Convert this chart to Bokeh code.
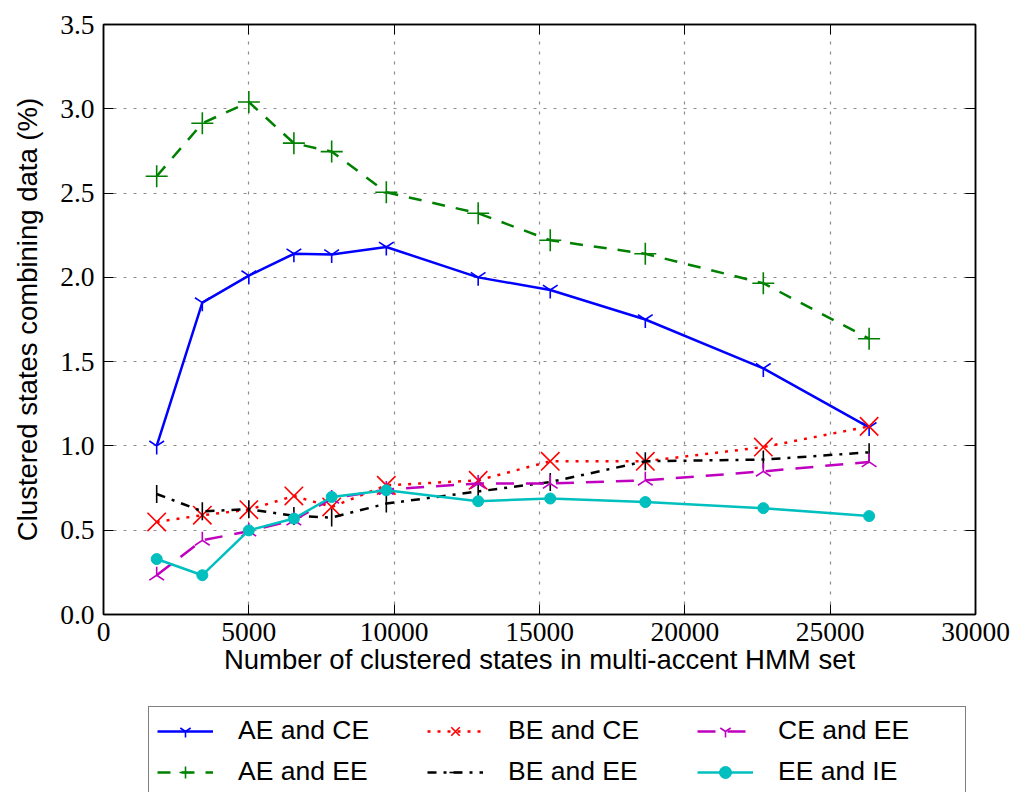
import numpy as np
from bokeh.plotting import figure
from bokeh.layouts import column
from bokeh.models import (FixedTicker, PrintfTickFormatter, LinearAxis, Legend,
                          LegendItem, Range1d, CustomJSTickFormatter)
from bokeh.embed import file_html
from bokeh.resources import INLINE

# ---------------- data ----------------
states = [1830, 3400, 5000, 6550, 7850, 9730, 12890, 15370, 18640, 22700, 26340]
ae_ce = [1.00, 1.85, 2.01, 2.14, 2.135, 2.18, 2.00, 1.925, 1.75, 1.46, 1.11]
ae_ee = [2.60, 2.914, 3.04, 2.796, 2.746, 2.505, 2.38, 2.22, 2.14, 1.965, 1.636]
be_ce = [0.549, 0.589, 0.622, 0.703, 0.638, 0.766, 0.796, 0.909, 0.909, 0.993, 1.116]
be_ee = [0.715, 0.612, 0.625, 0.585, 0.575, 0.658, 0.73, 0.786, 0.909, 0.919, 0.962]
ce_ee = [0.233, 0.44, 0.494, 0.559, 0.688, 0.741, 0.777, 0.777, 0.796, 0.849, 0.905]
ee_ie = [0.329, 0.233, 0.499, 0.569, 0.697, 0.737, 0.672, 0.688, 0.667, 0.631, 0.584]

series_names = ["AE and CE", "AE and EE", "BE and CE", "BE and EE", "CE and EE", "EE and IE"]
x_ticks = [0, 5000, 10000, 15000, 20000, 25000, 30000]
y_ticks = [0.0, 0.5, 1.0, 1.5, 2.0, 2.5, 3.0, 3.5]
x_label = "Number of clustered states in multi-accent HMM set"
y_label = "Clustered states combining data (%)"

TICK_FONT = "Liberation Serif"
LABEL_FONT = "Liberation Sans"

# ---------------- main figure ----------------
p = figure(width=1013, height=700, output_backend="svg", toolbar_location=None,
           x_range=Range1d(x_ticks[0], x_ticks[-1]), y_range=Range1d(y_ticks[0], y_ticks[-1]),
           min_border_left=103, min_border_right=38, min_border_top=24, min_border_bottom=86)
p.background_fill_color = "white"
p.border_fill_color = "white"
p.outline_line_color = "black"
p.outline_line_width = 1.5

for ax in [p.xaxis[0], p.yaxis[0]]:
    ax.major_tick_in = 10
    ax.major_tick_out = 0
    ax.minor_tick_in = 0
    ax.minor_tick_out = 0
    ax.major_tick_line_color = "black"
    ax.major_tick_line_width = 1
    ax.axis_line_color = "black"
    ax.axis_line_width = 1.5
    ax.major_label_text_font = TICK_FONT
    ax.major_label_text_font_size = "27.5px"
    ax.major_label_text_color = "black"
    ax.axis_label_text_font = LABEL_FONT
    ax.axis_label_text_font_size = "27.5px"
    ax.axis_label_text_font_style = "normal"
    ax.axis_label_text_color = "black"

p.xaxis[0].ticker = FixedTicker(ticks=x_ticks)
p.xaxis[0].formatter = PrintfTickFormatter(format="%d")
p.xaxis[0].axis_label = x_label
p.xaxis[0].major_label_standoff = 8
p.xaxis[0].axis_label_standoff = 0

p.yaxis[0].ticker = FixedTicker(ticks=y_ticks)
p.yaxis[0].formatter = PrintfTickFormatter(format="%.1f")
p.yaxis[0].axis_label = y_label
p.yaxis[0].major_label_standoff = 9
p.yaxis[0].axis_label_standoff = 14

# inward ticks on top and right (no labels)
blank = CustomJSTickFormatter(code="return ''")
right_ax = LinearAxis(ticker=FixedTicker(ticks=y_ticks), formatter=blank,
                      major_tick_in=10, major_tick_out=0, minor_tick_in=0, minor_tick_out=0,
                      axis_line_color="black", axis_line_width=1.5, major_label_standoff=0)
top_ax = LinearAxis(ticker=FixedTicker(ticks=x_ticks), formatter=blank,
                    major_tick_in=10, major_tick_out=0, minor_tick_in=0, minor_tick_out=0,
                    axis_line_color="black", axis_line_width=1.5, major_label_standoff=0)
p.add_layout(right_ax, "right")
p.add_layout(top_ax, "above")

p.xgrid.ticker = FixedTicker(ticks=x_ticks)
p.ygrid.ticker = FixedTicker(ticks=y_ticks)
p.grid.grid_line_color = "#8c8c8c"
p.grid.grid_line_dash = "3 7"
p.grid.grid_line_width = 1.2

# ---------------- legend strip (same series, out of its view range) ----------------
lg = figure(width=1013, height=92, output_backend="svg", toolbar_location=None,
            x_range=Range1d(0, 1), y_range=Range1d(0, 1),
            x_axis_location=None, y_axis_location=None,
            min_border_left=0, min_border_right=0, min_border_top=0, min_border_bottom=0)
lg.outline_line_color = None
lg.grid.visible = False
lg.background_fill_color = "white"
lg.border_fill_color = "white"

styles = [
    dict(y=ae_ce, color="#0000ff", dash="solid", marker="y", size=17, angle=0.0),
    dict(y=ae_ee, color="#008000", dash="13 11", marker="cross", size=22, angle=0.0),
    dict(y=be_ce, color="#ff0000", dash="3 7", marker="x", size=26, angle=0.0),
    dict(y=be_ee, color="#000000", dash="9 7 3 7", marker="dash", size=18, angle=np.pi / 2),
    dict(y=ce_ee, color="#bf00bf", dash="18 12", marker="y", size=17, angle=np.pi),
    dict(y=ee_ie, color="#00bfbf", dash="solid", marker="circle", size=11, angle=0.0),
]


def draw(fig, st):
    lr = fig.line(states, st["y"], line_color=st["color"], line_width=2.5, line_dash=st["dash"])
    if st["marker"] == "circle":
        sr = fig.scatter(states, st["y"], marker="circle", size=st["size"],
                         fill_color=st["color"], line_color=st["color"])
    else:
        sr = fig.scatter(states, st["y"], marker=st["marker"], size=st["size"], angle=st["angle"],
                         line_color=st["color"], line_width=1.6, fill_color=None)
    return lr, sr


items = []
for name, st in zip(series_names, styles):
    draw(p, st)
    lr, sr = draw(lg, st)
    items.append(LegendItem(label=name, renderers=[lr, sr]))

legend = Legend(items=items, location=(45, -4), nrows=2, orientation="vertical",
                glyph_width=56, glyph_height=30, label_height=30, label_width=179,
                label_standoff=25, spacing=10, padding=8, margin=0,
                label_text_font=LABEL_FONT, label_text_font_size="26.5px",
                label_text_color="black",
                border_line_color="black", border_line_width=1.5,
                background_fill_color="white", background_fill_alpha=1.0)
lg.add_layout(legend, "center")

layout = column(p, lg, spacing=0)
open("out.html", "w").write(file_html(layout, INLINE))
